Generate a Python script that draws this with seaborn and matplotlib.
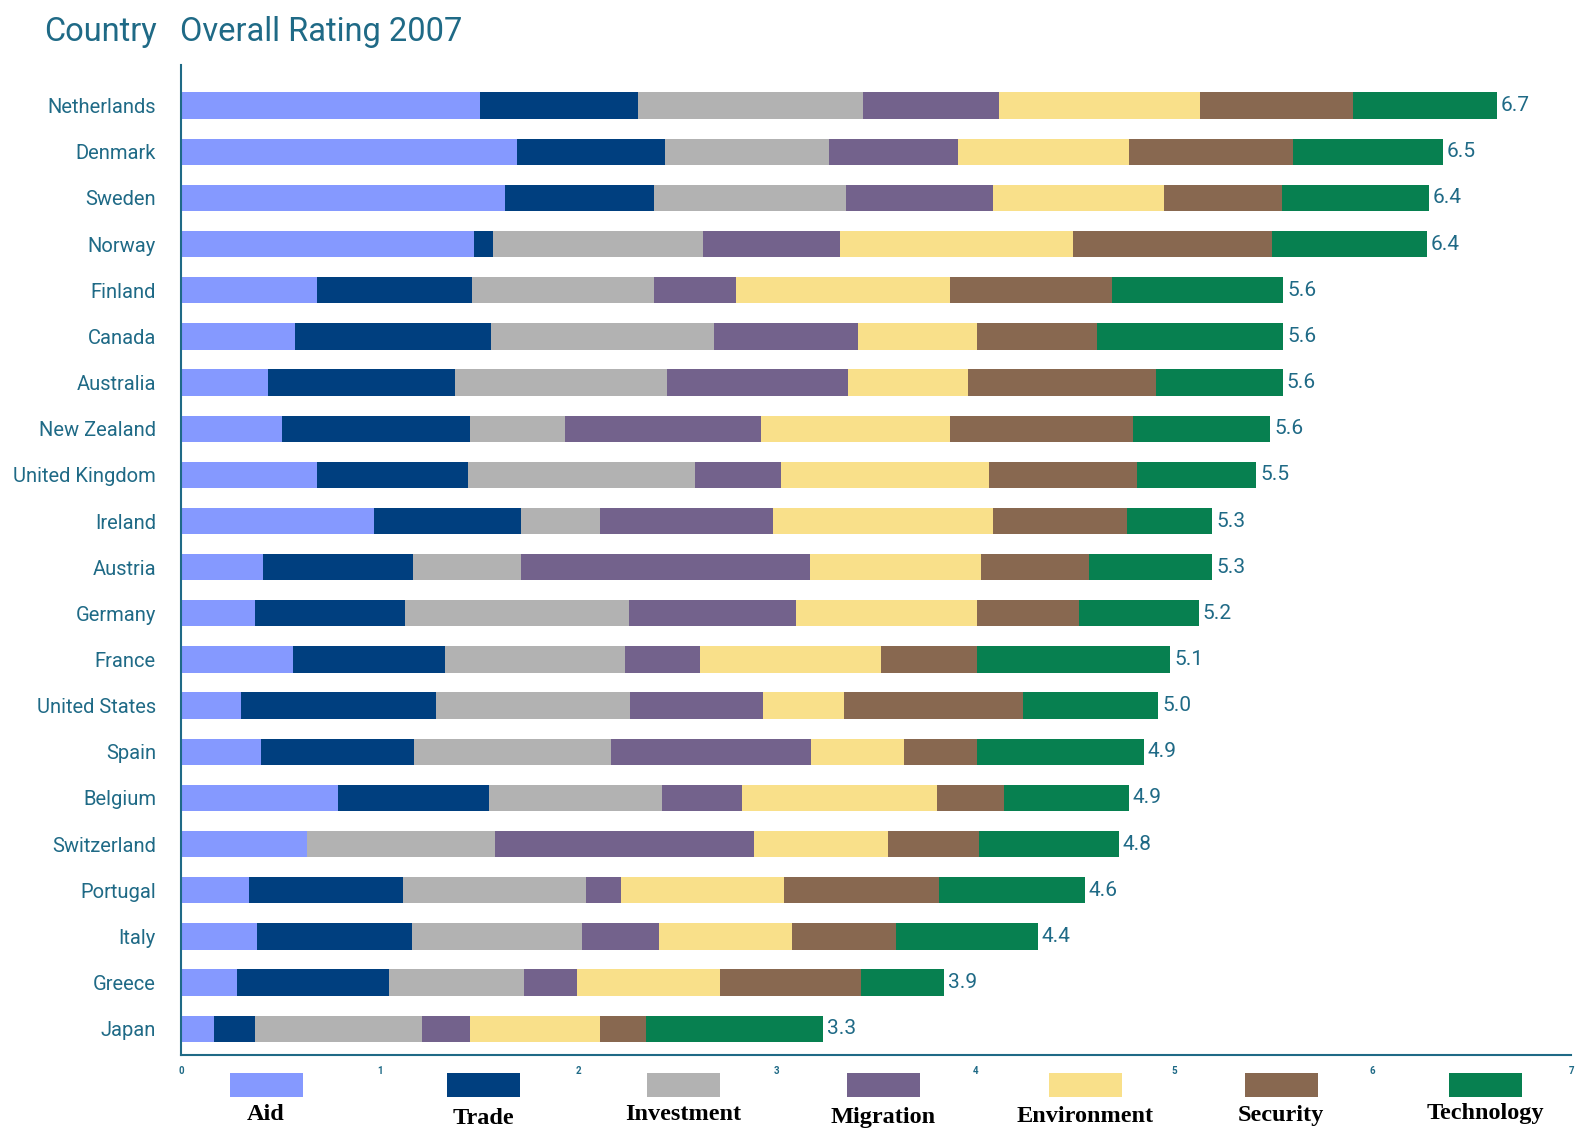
import matplotlib
matplotlib.use("Agg")
import matplotlib.pyplot as plt
import seaborn as sns
import numpy as np
import pandas as pd
from matplotlib.patches import Rectangle

countries = ["Netherlands", "Denmark", "Sweden", "Norway", "Finland", "Canada", "Australia",
             "New Zealand", "United Kingdom", "Ireland", "Austria", "Germany", "France",
             "United States", "Spain", "Belgium", "Switzerland", "Portugal", "Italy",
             "Greece", "Japan"]
components = ["Aid", "Trade", "Investment", "Migration", "Environment", "Security", "Technology"]

aid         = [1.505, 1.692, 1.631, 1.475, 0.687, 0.576, 0.439, 0.510, 0.687, 0.970, 0.414,
               0.374, 0.566, 0.303, 0.404, 0.793, 0.636, 0.343, 0.384, 0.283, 0.167]
trade       = [0.798, 0.747, 0.753, 0.096, 0.778, 0.985, 0.939, 0.944, 0.758, 0.742, 0.753,
               0.753, 0.763, 0.980, 0.768, 0.758, 0.000, 0.773, 0.778, 0.763, 0.207]
investment  = [1.131, 0.823, 0.965, 1.056, 0.919, 1.121, 1.071, 0.480, 1.141, 0.399, 0.545,
               1.131, 0.909, 0.980, 0.995, 0.869, 0.944, 0.924, 0.859, 0.682, 0.838]
migration   = [0.687, 0.652, 0.742, 0.692, 0.409, 0.727, 0.909, 0.985, 0.434, 0.869, 1.455,
               0.838, 0.374, 0.667, 1.005, 0.404, 1.308, 0.177, 0.384, 0.268, 0.242]
environment = [1.010, 0.859, 0.859, 1.172, 1.081, 0.601, 0.606, 0.955, 1.051, 1.111, 0.864,
               0.914, 0.914, 0.409, 0.470, 0.985, 0.672, 0.818, 0.672, 0.717, 0.657]
security    = [0.773, 0.828, 0.596, 1.005, 0.813, 0.601, 0.944, 0.919, 0.742, 0.672, 0.540,
               0.510, 0.485, 0.899, 0.369, 0.333, 0.460, 0.783, 0.525, 0.712, 0.232]
technology  = [0.722, 0.753, 0.737, 0.778, 0.864, 0.939, 0.641, 0.692, 0.601, 0.429, 0.621,
               0.606, 0.970, 0.682, 0.838, 0.631, 0.702, 0.732, 0.712, 0.419, 0.889]
overall_labels = ["6.7", "6.5", "6.4", "6.4", "5.6", "5.6", "5.6", "5.6", "5.5", "5.3", "5.3",
                  "5.2", "5.1", "5.0", "4.9", "4.9", "4.8", "4.6", "4.4", "3.9", "3.3"]
xtick_labels = ["0", "1", "2", "3", "4", "5", "6", "7"]

colors = ["#8599FF", "#003F7F", "#B2B2B2", "#73628C", "#F9E08A", "#886850", "#078050"]
teal = "#1F6A86"
sans = ["Roboto", "DejaVu Sans"]
serif = ["Liberation Serif", "DejaVu Serif"]

sns.set_theme(style="white")
plt.rcParams["font.family"] = sans

df = pd.DataFrame({"country": countries, "Aid": aid, "Trade": trade, "Investment": investment,
                   "Migration": migration, "Environment": environment, "Security": security,
                   "Technology": technology})
cum = df[components].cumsum(axis=1)
cum["country"] = df["country"]

fig = plt.figure(figsize=(15.75, 11.28), dpi=100)
ax = fig.add_axes([0.1149, 0.0647, 0.9975 - 0.1149, 0.942 - 0.0647])

for comp, col in reversed(list(zip(components, colors))):
    sns.barplot(data=cum, x=comp, y="country", order=countries, orient="h", color=col,
                saturation=1, width=0.57, errorbar=None, linewidth=0, ax=ax)

totals = cum["Technology"].values
for i, (t, lab) in enumerate(zip(totals, overall_labels)):
    ax.text(t + 0.02, i, lab, va="center", ha="left", color=teal, fontsize=15, family=sans)

ax.set_xlim(0, 7)
ax.set_ylim(20.57, -0.871)
ax.set_xlabel("")
ax.set_ylabel("")
ax.set_xticks(range(8))
ax.set_xticklabels(xtick_labels, fontsize=7, color=teal, fontweight="bold")
ax.tick_params(axis="x", length=0, pad=8)
ax.set_yticks(range(len(countries)))
ax.set_yticklabels(countries, fontsize=14.5, color=teal, family=sans)
ax.tick_params(axis="y", length=0, pad=18)
for s in ["top", "right"]:
    ax.spines[s].set_visible(False)
for s in ["left", "bottom"]:
    ax.spines[s].set_color(teal)
    ax.spines[s].set_linewidth(1.5)
ax.grid(False)

# title
fig.text(157 / 1575, 1 - 32 / 1128, "Country", color=teal, va="center", ha="right",
         fontsize=23.5, family=sans)
fig.text(180 / 1575, 1 - 32 / 1128, "Overall Rating 2007", color=teal, va="center",
         ha="left", fontsize=23.5, family=sans)

# legend
leg_x = [230, 447, 647, 847, 1049, 1245, 1449]
leg_lab_y = [1115, 1119, 1115, 1117, 1117, 1115, 1113]
for comp, col, x0, ly in zip(components, colors, leg_x, leg_lab_y):
    fig.patches.append(Rectangle((x0 / 1575, 1 - 1097 / 1128), 73 / 1575, 24 / 1128,
                                 transform=fig.transFigure, facecolor=col, edgecolor="none"))
    fig.text((x0 + 36) / 1575, 1 - ly / 1128, comp, ha="center", va="center", fontsize=17.5,
             fontweight="bold", family=serif, color="black")

fig.savefig("out.png", dpi=100)
